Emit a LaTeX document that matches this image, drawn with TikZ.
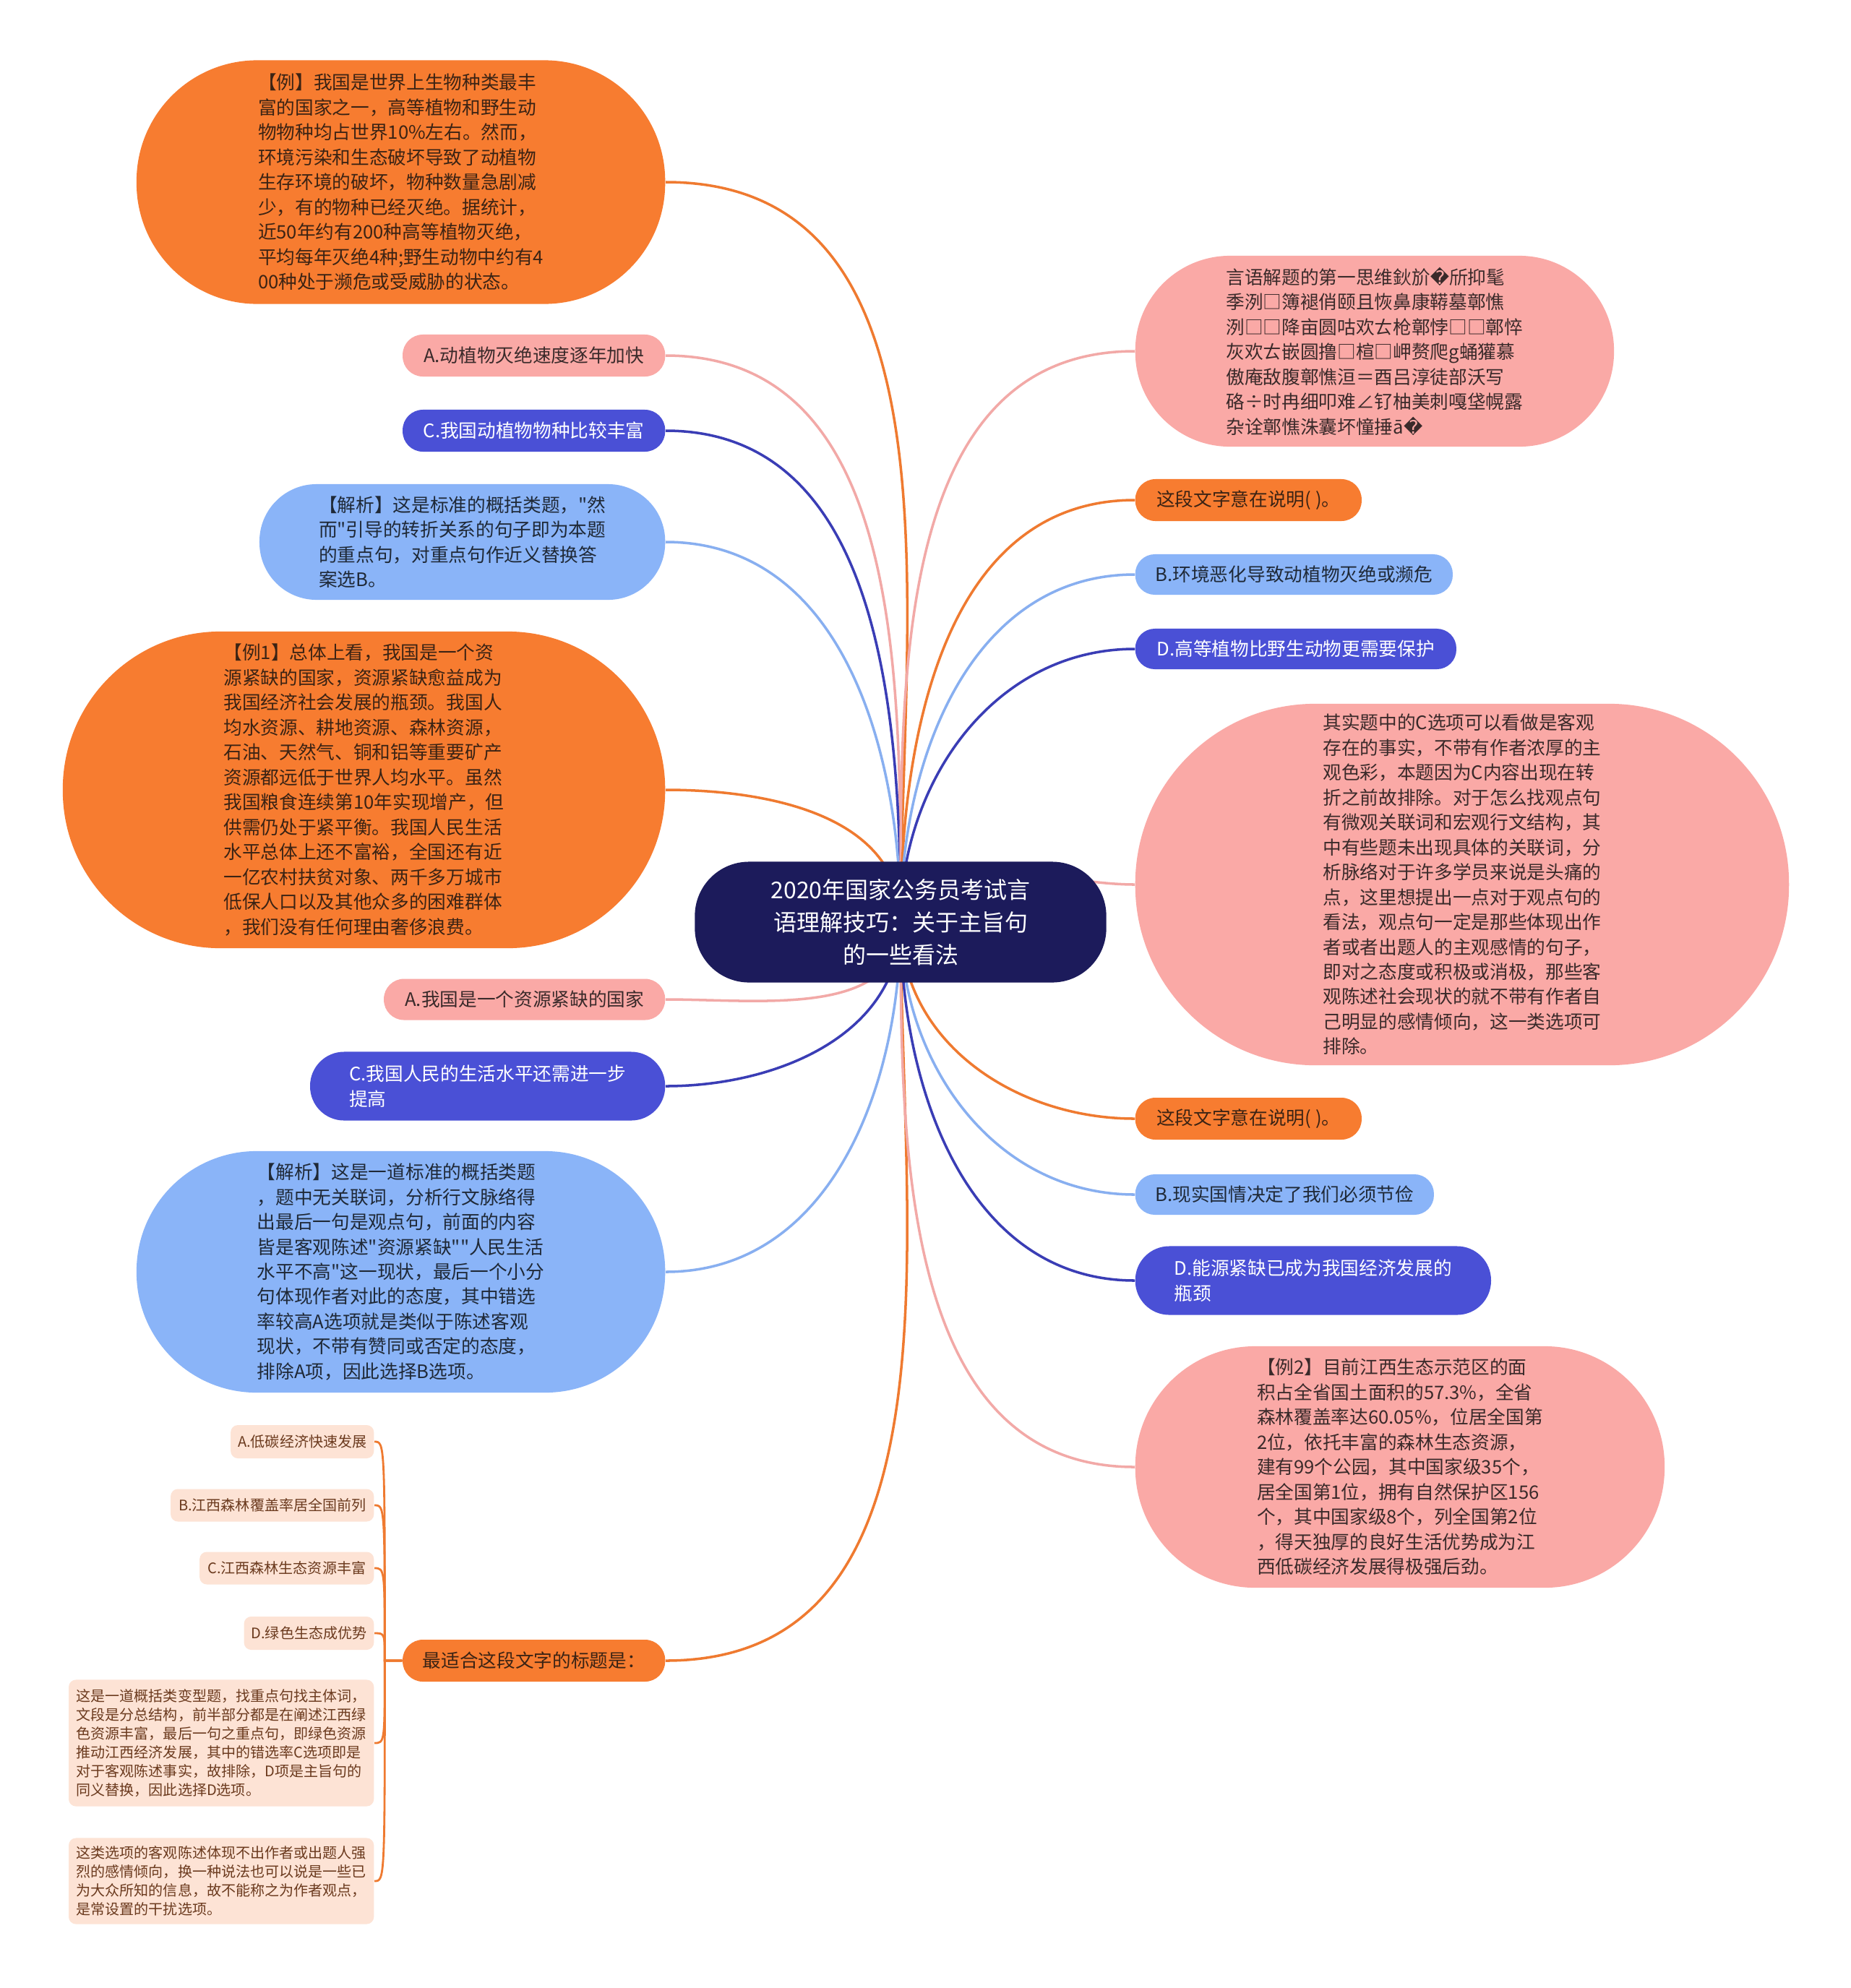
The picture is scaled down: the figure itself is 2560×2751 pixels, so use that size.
\documentclass[tikz,border=0pt]{standalone}
\usepackage{fontspec}
\setmainfont{Noto Sans CJK SC}
\newfontfamily\plainf{Noto Sans CJK SC}
\newfontfamily\symf{DejaVu Sans}
\newcommand\qq{{\plainf "}}

\definecolor{cOr}{HTML}{F77C30}
\definecolor{cPk}{HTML}{FAA9A6}
\definecolor{cLb}{HTML}{8AB4F8}
\definecolor{cBl}{HTML}{4A50D6}
\definecolor{cNv}{HTML}{1C1B5B}
\definecolor{cPe}{HTML}{FDE3D5}
\definecolor{tOr}{HTML}{3B2314}
\definecolor{tPk}{HTML}{3A2A2A}
\definecolor{tLb}{HTML}{1F2937}
\definecolor{tPe}{HTML}{6B3A1E}
\definecolor{lOr}{HTML}{EF7A30}
\definecolor{lPk}{HTML}{F2A9A7}
\definecolor{lLb}{HTML}{88AFF0}
\definecolor{lBl}{HTML}{3A3DB5}

\pgfdeclarelayer{paper}
\pgfdeclarelayer{wires}
\pgfsetlayers{paper,wires,main}

\tikzset{
  box/.style n args={3}{minimum width=#1cm, minimum height=#2cm, rounded corners=#3cm},
  bub/.style={inner sep=0pt, align=left, font=\fontsize{7.3}{9.8}\selectfont},
  hub/.style={inner sep=0pt, align=center, font=\fontsize{9.1}{12.8}\selectfont},
  tag/.style={inner xsep=0.1cm, inner ysep=0pt, align=left, fill=cPe, text=tPe,
    rounded corners=0.1cm, font=\fontsize{5.7}{7.4}\selectfont},
  fOr/.style={fill=cOr, text=tOr},
  fPk/.style={fill=cPk, text=tPk},
  fLb/.style={fill=cLb, text=tLb},
  fBl/.style={fill=cBl, text=white},
  ln/.style={line width=1pt}
}

\begin{document}
\begin{tikzpicture}[x=0.01cm, y=-0.01cm]
\begin{pgfonlayer}{paper}
\fill[white] (0,0) rectangle (2560,2751);
\end{pgfonlayer}

\node[hub, fill=cNv, text=white, box={5.69}{1.67}{0.75}] (root) at (1246,1276)
  {2020年国家公务员考试言\\语理解技巧：关于主旨句\\的一些看法};

\node[bub, fOr, box={7.31}{3.37}{1.67}, anchor=east] (ex1) at (921,252)
  {【例】我国是世界上生物种类最丰\\富的国家之一，高等植物和野生动\\物物种均占世界10\%左右。然而，\\环境污染和生态破坏导致了动植物\\生存环境的破坏，物种数量急剧减\\少，有的物种已经灭绝。据统计，\\近50年约有200种高等植物灭绝，\\平均每年灭绝4种;野生动物中约有4\\00种处于濒危或受威胁的状态。};
\node[bub, fPk, box={3.63}{0.58}{0.28}, anchor=east] (la1) at (921,492) {A.动植物灭绝速度逐年加快};
\node[bub, fBl, box={3.63}{0.58}{0.28}, anchor=east] (lc1) at (921,596) {C.我国动植物物种比较丰富};
\node[bub, fLb, box={5.61}{1.60}{0.79}, anchor=east] (an1) at (921,750)
  {【解析】这是标准的概括类题，\qq 然\\而\qq 引导的转折关系的句子即为本题\\的重点句，对重点句作近义替换答\\案选B。};
\node[bub, fOr, box={8.33}{4.38}{2.18}, anchor=east] (ex2) at (921,1093)
  {【例1】总体上看，我国是一个资\\源紧缺的国家，资源紧缺愈益成为\\我国经济社会发展的瓶颈。我国人\\均水资源、耕地资源、森林资源，\\石油、天然气、铜和铝等重要矿产\\资源都远低于世界人均水平。虽然\\我国粮食连续第10年实现增产，但\\供需仍处于紧平衡。我国人民生活\\水平总体上还不富裕，全国还有近\\一亿农村扶贫对象、两千多万城市\\低保人口以及其他众多的困难群体\\，我们没有任何理由奢侈浪费。};
\node[bub, fPk, box={3.89}{0.57}{0.28}, anchor=east] (la2) at (921,1383) {A.我国是一个资源紧缺的国家};
\node[bub, fBl, box={4.91}{0.95}{0.47}, anchor=east] (lc2) at (921,1503)
  {C.我国人民的生活水平还需进一步\\提高};
\node[bub, fLb, box={7.31}{3.34}{1.66}, anchor=east] (an2) at (921,1760)
  {【解析】这是一道标准的概括类题\\，题中无关联词，分析行文脉络得\\出最后一句是观点句，前面的内容\\皆是客观陈述\qq 资源紧缺\qq\qq 人民生活\\水平不高\qq 这一现状，最后一个小分\\句体现作者对此的态度，其中错选\\率较高A选项就是类似于陈述客观\\现状，不带有赞同或否定的态度，\\排除A项，因此选择B选项。};
\node[bub, fOr, box={3.63}{0.58}{0.28}, anchor=east] (qt) at (921,2298) {最适合这段文字的标题是：};

\node[tag, minimum width=1.97cm, minimum height=0.46cm, anchor=east] (ta) at (518,1995) {A.低碳经济快速发展};
\node[tag, minimum width=2.81cm, minimum height=0.45cm, anchor=east] (tb) at (518,2083) {B.江西森林覆盖率居全国前列};
\node[tag, minimum width=2.41cm, minimum height=0.45cm, anchor=east] (tc) at (518,2170) {C.江西森林生态资源丰富};
\node[tag, minimum width=1.79cm, minimum height=0.46cm, anchor=east] (td) at (518,2260) {D.绿色生态成优势};
\node[tag, minimum width=4.22cm, minimum height=1.75cm, anchor=east] (te) at (518,2412)
  {这是一道概括类变型题，找重点句找主体词，\\文段是分总结构，前半部分都是在阐述江西绿\\色资源丰富，最后一句之重点句，即绿色资源\\推动江西经济发展，其中的错选率C选项即是\\对于客观陈述事实，故排除，D项是主旨句的\\同义替换，因此选择D选项。};
\node[tag, minimum width=4.22cm, minimum height=1.19cm, anchor=east] (tf) at (518,2603)
  {这类选项的客观陈述体现不出作者或出题人强\\烈的感情倾向，换一种说法也可以说是一些已\\为大众所知的信息，故不能称之为作者观点，\\是常设置的干扰选项。};

\node[bub, fPk, box={6.62}{2.64}{1.31}, anchor=west] (gb) at (1570,486)
  {言语解题的第一思维鈥斺{\symf �}斦抑髦\\季洌□簿褪俏颐且恢鼻康鞯墓鄣憔\\洌□□降亩圆咕欢ㄊ枪鄣悖□□鄣悴\\灰欢ㄊ嵌圆撸□楦□岬赘爬g蛹獾慕\\傲庵敌腹鄣憔洹＝酉吕淳徒部沃写\\硌÷时冉细叩难∠钌柚美刺嘎垡幌露\\杂诠鄣憔洙囊坏憧捶ā{\symf �}};
\node[bub, fOr, box={3.13}{0.58}{0.28}, anchor=west] (qa) at (1570,692) {这段文字意在说明( )。};
\node[bub, fLb, box={4.39}{0.56}{0.27}, anchor=west] (rb1) at (1570,795) {B.环境恶化导致动植物灭绝或濒危};
\node[bub, fBl, box={4.44}{0.56}{0.27}, anchor=west] (rd1) at (1570,898) {D.高等植物比野生动物更需要保护};
\node[bub, fPk, box={9.04}{5.00}{2.49}, anchor=west] (ex3) at (1570,1224)
  {其实题中的C选项可以看做是客观\\存在的事实，不带有作者浓厚的主\\观色彩，本题因为C内容出现在转\\折之前故排除。对于怎么找观点句\\有微观关联词和宏观行文结构，其\\中有些题未出现具体的关联词，分\\析脉络对于许多学员来说是头痛的\\点，这里想提出一点对于观点句的\\看法，观点句一定是那些体现出作\\者或者出题人的主观感情的句子，\\即对之态度或积极或消极，那些客\\观陈述社会现状的就不带有作者自\\己明显的感情倾向，这一类选项可\\排除。};
\node[bub, fOr, box={3.13}{0.58}{0.28}, anchor=west] (qb) at (1570,1548) {这段文字意在说明( )。};
\node[bub, fLb, box={4.13}{0.56}{0.27}, anchor=west] (rb2) at (1570,1653) {B.现实国情决定了我们必须节俭};
\node[bub, fBl, box={4.92}{0.95}{0.47}, anchor=west] (rd2) at (1570,1772)
  {D.能源紧缺已成为我国经济发展的\\瓶颈};
\node[bub, fPk, box={7.32}{3.34}{1.66}, anchor=west] (ex4) at (1570,2030)
  {【例2】目前江西生态示范区的面\\积占全省国土面积的57.3\%，全省\\森林覆盖率达60.05\%，位居全国第\\2位，依托丰富的森林生态资源，\\建有99个公园，其中国家级35个，\\居全国第1位，拥有自然保护区156\\个，其中国家级8个，列全国第2位\\，得天独厚的良好生活优势成为江\\西低碳经济发展得极强后劲。};

\coordinate (fork) at ([xshift=-0.24cm]qt.west);

\begin{pgfonlayer}{wires}
\draw[ln, lOr] (root.center) to[out=90,in=0] (ex1.east);
\draw[ln, lPk] (root.center) to[out=90,in=0] (la1.east);
\draw[ln, lBl] (root.center) to[out=90,in=0] (lc1.east);
\draw[ln, lLb] (root.center) to[out=90,in=0] (an1.east);
\draw[ln, lOr] (root.center) to[out=90,in=0] (ex2.east);
\draw[ln, lPk] (root.center) to[out=-90,in=0] (la2.east);
\draw[ln, lBl] (root.center) to[out=-90,in=0] (lc2.east);
\draw[ln, lLb] (root.center) to[out=-90,in=0] (an2.east);
\draw[ln, lOr] (root.center) to[out=-90,in=0] (qt.east);
\draw[ln, lPk] (root.center) to[out=90,in=180] (gb.west);
\draw[ln, lOr] (root.center) to[out=90,in=180] (qa.west);
\draw[ln, lLb] (root.center) to[out=90,in=180] (rb1.west);
\draw[ln, lBl] (root.center) to[out=90,in=180] (rd1.west);
\draw[ln, lPk] (root.center) to[out=90,in=180] (ex3.west);
\draw[ln, lOr] (root.center) to[out=-90,in=180] (qb.west);
\draw[ln, lLb] (root.center) to[out=-90,in=180] (rb2.west);
\draw[ln, lBl] (root.center) to[out=-90,in=180] (rd2.west);
\draw[ln, lPk] (root.center) to[out=-90,in=180] (ex4.west);
\foreach \t in {ta,tb,tc,td,te,tf}
  \draw[line width=0.8pt, lOr] (qt.west) -- (fork) .. controls (fork |- \t.east) .. (\t.east);
\end{pgfonlayer}
\end{tikzpicture}
\end{document}
